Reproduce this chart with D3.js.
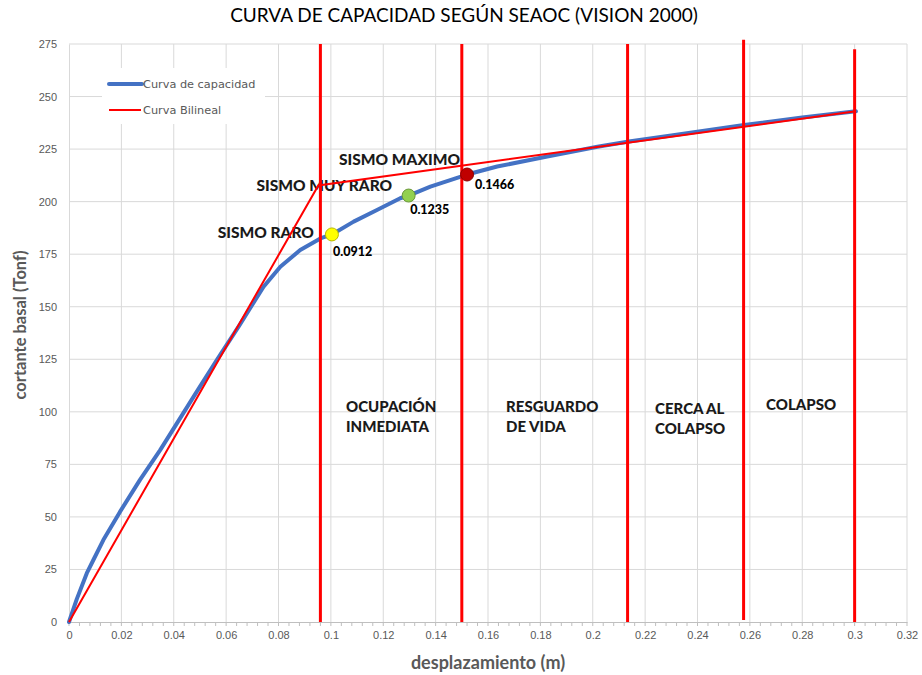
<!DOCTYPE html>
<html>
<head>
<meta charset="utf-8">
<script src="https://cdn.jsdelivr.net/npm/d3@7/dist/d3.min.js"></script>
<style>
  html, body { margin: 0; padding: 0; background: #fff; }
  svg { display: block; }
</style>
</head>
<body>
<svg id="chart" width="922" height="675"></svg>
<script>
// Capacity curve (pushover): displacement (m) vs base shear (Tonf)
const capX = [0, 0.003, 0.0068, 0.0093, 0.0131, 0.0195, 0.0271, 0.0348, 0.0412, 0.0488, 0.0565, 0.065, 0.0743, 0.0807, 0.0883, 0.096, 0.1004, 0.1087, 0.1176, 0.1265, 0.1297, 0.138, 0.152, 0.1635, 0.1826, 0.2018, 0.2138, 0.23, 0.2578, 0.28, 0.3005];
const capY = [0, 11, 23.2, 29.5, 39, 52.5, 67.6, 81.8, 94.5, 109.6, 124.7, 141, 159.5, 169, 177, 182.5, 184.4, 190.5, 196, 201.6, 202.9, 207.1, 212.9, 216.7, 221.5, 226.1, 228.6, 231.5, 236.5, 240, 243];

// Idealised bilinear curve
const bilX = [0, 0.0952, 0.3005];
const bilY = [0, 207.7, 243];

// Performance-level boundaries (vertical lines)
const zoneX = [0.096, 0.15, 0.2133, 0.2576, 0.3];
const zoneTop = [275, 275, 275, 277, 272.5];
const zoneBottom = [0, 0, 0, 1, 0];

// Seismic demand points
const ptNames = ["SISMO RARO", "SISMO MUY RARO", "SISMO MAXIMO"];
const ptX = [0.1004, 0.1297, 0.152];
const ptY = [184.4, 202.9, 212.9];
const ptValueLabels = ["0.0912", "0.1235", "0.1466"];
const ptColors = ["#FFFF00", "#92D050", "#C00000"];

// Performance zone names
const zoneNames = [["OCUPACIÓN", "INMEDIATA"], ["RESGUARDO", "DE VIDA"], ["CERCA AL", "COLAPSO"], ["COLAPSO"]];
const zoneLabelX = [0.1058, 0.1669, 0.2238, 0.2662];
const zoneLabelY = [100, 100, 99, 101];

// Axis ticks
const xTickLabels = ["0", "0.02", "0.04", "0.06", "0.08", "0.1", "0.12", "0.14", "0.16", "0.18", "0.2", "0.22", "0.24", "0.26", "0.28", "0.3", "0.32"];
const yTickLabels = ["0", "25", "50", "75", "100", "125", "150", "175", "200", "225", "250", "275"];

const svg = d3.select("#chart");
const plotLeft = 69, plotRight = 907, plotTop = 44, plotBottom = 622;

const x = d3.scaleLinear().domain([0, 0.32]).range([plotLeft, plotRight]);
const y = d3.scaleLinear().domain([0, 275]).range([plotBottom, plotTop]);

const gridColor = "#D9D9D9";
const textGray = "#595959";
const labelFont = "Lato, sans-serif";

svg.append("rect").attr("width", 922).attr("height", 675).attr("fill", "#fff");

// Gridlines
const xTickVals = xTickLabels.map(Number);
const yTickVals = yTickLabels.map(Number);

svg.append("g").selectAll("line").data(xTickVals.slice(1)).join("line")
  .attr("x1", d => x(d)).attr("x2", d => x(d))
  .attr("y1", y(275)).attr("y2", y(0))
  .attr("stroke", gridColor).attr("stroke-width", 1);

svg.append("g").selectAll("line").data(yTickVals.slice(1)).join("line")
  .attr("x1", x(0)).attr("x2", x(0.32))
  .attr("y1", d => y(d)).attr("y2", d => y(d))
  .attr("stroke", gridColor).attr("stroke-width", 1);

// Axes
const xAxis = d3.axisBottom(x)
  .tickValues(xTickVals)
  .tickFormat((d, i) => xTickLabels[i])
  .tickSize(0).tickPadding(9);
const gx = svg.append("g").attr("transform", `translate(0,${plotBottom})`).call(xAxis);
gx.select(".domain").attr("stroke", "#BFBFBF");
gx.selectAll("text").attr("fill", textGray).style("font-family", "Liberation Sans, Arial, sans-serif").style("font-size", "11px");

// Minor tick marks along the x axis
svg.append("g").selectAll("line").data(d3.range(0, 81).map(i => i * 0.004)).join("line")
  .attr("x1", d => x(d)).attr("x2", d => x(d))
  .attr("y1", plotBottom).attr("y2", plotBottom + 4)
  .attr("stroke", "#BFBFBF").attr("stroke-width", 1);

const yAxis = d3.axisLeft(y)
  .tickValues(yTickVals)
  .tickFormat((d, i) => yTickLabels[i])
  .tickSize(0).tickPadding(12);
const gy = svg.append("g").attr("transform", `translate(${plotLeft},0)`).call(yAxis);
gy.select(".domain").attr("stroke", "#D9D9D9");
gy.selectAll("text").attr("fill", textGray).style("font-family", "Liberation Sans, Arial, sans-serif").style("font-size", "11px");

// Title
svg.append("text")
  .attr("x", 464).attr("y", 22)
  .attr("text-anchor", "middle")
  .style("font-family", labelFont).style("font-size", "19px")
  .attr("fill", "#000")
  .text("CURVA DE CAPACIDAD SEGÚN SEAOC (VISION 2000)");

// Axis titles
svg.append("text")
  .attr("x", 488).attr("y", 669)
  .attr("text-anchor", "middle")
  .style("font-family", labelFont).style("font-size", "18px").style("font-weight", "bold")
  .attr("fill", textGray)
  .text("desplazamiento (m)");

svg.append("text")
  .attr("transform", "translate(26,325) rotate(-90)")
  .attr("text-anchor", "middle")
  .style("font-family", labelFont).style("font-size", "16.5px").style("font-weight", "bold")
  .attr("fill", textGray)
  .text("cortante basal (Tonf)");

// Legend
const legend = svg.append("g");
legend.append("rect").attr("x", 102).attr("y", 68).attr("width", 163).attr("height", 56).attr("fill", "#fff");
legend.append("line").attr("x1", 109).attr("x2", 142).attr("y1", 84).attr("y2", 84)
  .attr("stroke", "#4472C4").attr("stroke-width", 4).attr("stroke-linecap", "round");
legend.append("text").attr("x", 143).attr("y", 88)
  .style("font-family", "DejaVu Sans, sans-serif").style("font-size", "11.3px").attr("fill", textGray)
  .text("Curva de capacidad");
legend.append("line").attr("x1", 109).attr("x2", 141).attr("y1", 110).attr("y2", 110)
  .attr("stroke", "#FF0000").attr("stroke-width", 2);
legend.append("text").attr("x", 143).attr("y", 114)
  .style("font-family", "DejaVu Sans, sans-serif").style("font-size", "11.3px").attr("fill", textGray)
  .text("Curva Bilineal");

// Zone labels
const zoneG = svg.append("g");
zoneNames.forEach((lines, i) => {
  const t = zoneG.append("text")
    .attr("x", x(zoneLabelX[i])).attr("y", y(zoneLabelY[i]))
    .style("font-family", labelFont).style("font-size", "15px").style("font-weight", "900")
    .attr("fill", "#1a1a1a");
  lines.forEach((s, j) => t.append("tspan").attr("x", x(zoneLabelX[i])).attr("dy", j === 0 ? 0 : 20).text(s));
});

// Demand point names (right-aligned, left of each point)
const nameOffsets = [[-18, 4], [-16.5, -5], [-7, -10]];
svg.append("g").selectAll("text").data(ptNames).join("text")
  .attr("x", (d, i) => x(ptX[i]) + nameOffsets[i][0])
  .attr("y", (d, i) => y(ptY[i]) + nameOffsets[i][1])
  .attr("text-anchor", "end")
  .style("font-family", labelFont).style("font-size", "15.5px").style("font-weight", "900")
  .attr("fill", "#1a1a1a")
  .text(d => d);

// Capacity curve
const line = d3.line().x(d => x(d[0])).y(d => y(d[1]));
svg.append("path")
  .datum(capX.map((v, i) => [v, capY[i]]))
  .attr("d", line)
  .attr("fill", "none").attr("stroke", "#4472C4").attr("stroke-width", 4)
  .attr("stroke-linejoin", "round").attr("stroke-linecap", "round");

// Bilinear curve
svg.append("path")
  .datum(bilX.map((v, i) => [v, bilY[i]]))
  .attr("d", line)
  .attr("fill", "none").attr("stroke", "#FF0000").attr("stroke-width", 2);

// Zone boundaries
svg.append("g").selectAll("line").data(zoneX).join("line")
  .attr("x1", d => x(d)).attr("x2", d => x(d))
  .attr("y1", (d, i) => y(zoneBottom[i])).attr("y2", (d, i) => y(zoneTop[i]))
  .attr("stroke", "#FF0000").attr("stroke-width", 3);

// Demand points
svg.append("g").selectAll("circle").data(ptX).join("circle")
  .attr("cx", d => x(d)).attr("cy", (d, i) => y(ptY[i]))
  .attr("r", 6.5)
  .attr("fill", (d, i) => ptColors[i])
  .attr("stroke", (d, i) => d3.color(ptColors[i]).darker(0.9))
  .attr("stroke-width", 1);

// Point value labels
const valueOffsets = [[1, 21.5], [1.5, 18.5], [8, 14.5]];
svg.append("g").selectAll("text").data(ptValueLabels).join("text")
  .attr("x", (d, i) => x(ptX[i]) + valueOffsets[i][0])
  .attr("y", (d, i) => y(ptY[i]) + valueOffsets[i][1])
  .style("font-family", labelFont).style("font-size", "12.5px").style("font-weight", "900")
  .attr("fill", "#000")
  .text(d => d);
</script>
</body>
</html>
